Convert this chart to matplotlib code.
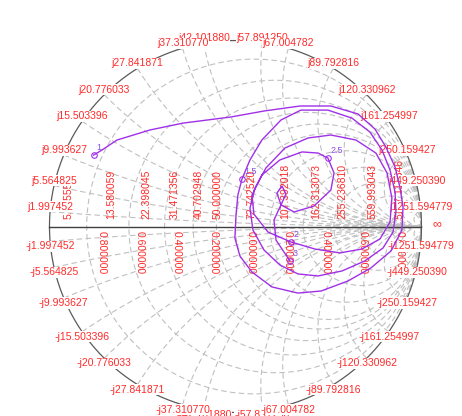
import numpy as np
import matplotlib.pyplot as plt

plt.rcParams['font.family'] = ['Liberation Sans', 'DejaVu Sans']

z0 = 50.0

# reactance marks on the rim (ohm)
react_vals = [1.997452, 5.564825, 9.993627, 15.503396, 20.776033, 27.841871,
              37.310770, 42.101880, 57.891250, 67.004782, 89.792816, 120.330962,
              161.254997, 250.159427, 449.250390, 1251.594779]
# resistance marks along the real axis (ohm)
resist_vals = [5.555556, 13.580059, 22.398045, 31.471356, 40.702948, 50.000000,
               72.742520, 107.392018, 162.313073, 255.236810, 559.993043, 5137.114646]
# reflection coefficient ticks under the axis
gamma_ticks = [-0.8, -0.6, -0.4, -0.2, 0.0, 0.2, 0.4, 0.6, 0.8]

# measured reflection coefficient (real / imag)
trace_re = [-0.763, -0.718, -0.637, -0.460, -0.282, -0.024, 0.153, 0.347, 0.513,
            0.659, 0.750, 0.809, 0.858, 0.884, 0.901, 0.895, 0.836, 0.728, 0.605,
            0.460, 0.336, 0.196, 0.089, 0.024, -0.003, 0.003, 0.013, 0.035,
            0.078, 0.142, 0.245, 0.352, 0.497, 0.626, 0.723, 0.788, 0.831, 0.858,
            0.863, 0.847, 0.793, 0.696, 0.573, 0.444, 0.336, 0.239, 0.153, 0.094,
            0.078, 0.105, 0.164, 0.266, 0.390, 0.513, 0.648, 0.755, 0.815, 0.841,
            0.831, 0.777, 0.680, 0.562, 0.427, 0.298,
            0.175, 0.099, 0.089, 0.142, 0.239, 0.358, 0.444, 0.497,
            0.530, 0.513, 0.422, 0.315, 0.245, 0.223, 0.250, 0.272, 0.207, 0.218, 0.293]
trace_im = [0.384, 0.411, 0.465, 0.519, 0.556, 0.589, 0.621, 0.648, 0.648,
            0.605, 0.524, 0.427, 0.320, 0.212, 0.105, -0.019, -0.132, -0.223, -0.293,
            -0.347, -0.358, -0.325, -0.245, -0.159, -0.062, 0.062, 0.169, 0.255,
            0.358, 0.465, 0.573, 0.626, 0.626, 0.583, 0.508, 0.411, 0.304, 0.185,
            0.078, -0.030, -0.116, -0.185, -0.239, -0.266, -0.255, -0.207, -0.126, -0.019,
            0.099, 0.207, 0.315, 0.422, 0.476, 0.492, 0.465, 0.395, 0.288, 0.153,
            0.024, -0.067, -0.121, -0.142, -0.121, -0.083,
            -0.030, 0.067, 0.169, 0.277, 0.358, 0.401, 0.395, 0.368,
            0.288, 0.196, 0.110, 0.078, 0.116, 0.180, 0.218, 0.175, 0.035, -0.073, -0.185]

# frequency marks on the trace
freq_marks = ['1', '1.5', '2', '2.5', '3']
mark_re = [-0.763, 0.035, 0.298, 0.497, 0.293]
mark_im = [0.384, 0.255, -0.083, 0.368, -0.185]

red = '#ff2a2a'
purple = '#a030e8'


def gamma(z):
    return (z - 1) / (z + 1)


fig = plt.figure(figsize=(4.62, 4.16), dpi=100)
ax = fig.add_axes([0, 0, 1, 1])
ax.set_xlim(-1.266, 1.218)
ax.set_ylim(-1.019, 1.218)
ax.axis('off')

# grid: constant resistance circles and constant reactance arcs
grid_kw = dict(color='#c0c0c0', lw=0.8, ls=(0, (5, 3)), zorder=1)
t = np.linspace(0, 2 * np.pi, 500)
for R in resist_vals:
    r = R / z0
    c, rad = r / (1 + r), 1 / (1 + r)
    ax.plot(c + rad * np.cos(t), rad * np.sin(t), **grid_kw)

rr = np.concatenate([np.linspace(0, 1, 200), np.logspace(0, 4, 400)[1:]])
for X in react_vals:
    for s in (1, -1):
        g = gamma(rr + 1j * s * X / z0)
        ax.plot(g.real, g.imag, **grid_kw)

ax.plot(np.cos(t), np.sin(t), color='#5a5a5a', lw=0.9, zorder=2)
ax.plot([-1, 1], [0, 0], color='#404040', lw=1.0, zorder=2)

# rim labels
box = dict(boxstyle='square,pad=0.05', fc='white', ec='none')
for X in react_vals:
    for s in (1, -1):
        g = gamma(1j * s * X / z0)
        txt = ('j' if s > 0 else '-j') + f'{X:f}'
        zo = 3 if 40 < X < 60 else 4
        ax.text(g.real, g.imag, txt, ha='center', va='bottom' if s > 0 else 'top',
                color=red, fontsize=7.5, bbox=box, zorder=zo)
ax.annotate('\u221e', (1, 0), xytext=(8, 2), textcoords='offset points',
            ha='left', va='center', color=red, fontsize=9, zorder=4)

# axis labels: resistance above, reflection coefficient below
for R in resist_vals:
    g = (R - z0) / (R + z0)
    ax.annotate(f'{R:f}', (g, 0), xytext=(-13, 5.5), textcoords='offset points',
                rotation=90, ha='center', va='bottom', color=red, fontsize=7.5, zorder=3)
for g in gamma_ticks:
    ax.annotate(f'{abs(g):f}', (g, 0), xytext=(11, -3), textcoords='offset points',
                rotation=-90, ha='center', va='top', color=red, fontsize=7.5, zorder=3)

# trace
ax.plot(trace_re, trace_im, color=purple, lw=1.0, zorder=6)
ax.plot(mark_re, mark_im, 'o', mfc='none', mec=purple, ms=4, mew=0.8, zorder=6)
for f, x, y in zip(freq_marks, mark_re, mark_im):
    ax.annotate(f, (x, y), xytext=(2, 2), textcoords='offset points',
                ha='left', va='bottom', color='#8a4de0', fontsize=6.5, zorder=6)

fig.savefig('out.png', dpi=100)
